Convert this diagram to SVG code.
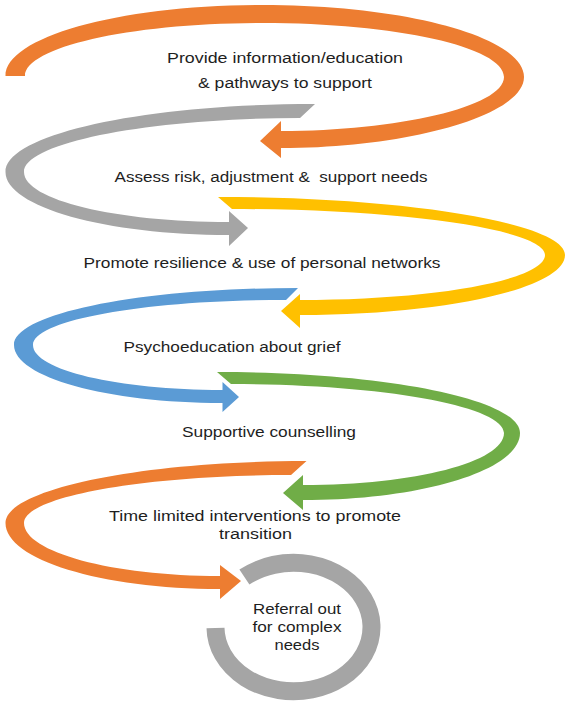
<svg xmlns="http://www.w3.org/2000/svg" width="570" height="704" viewBox="0 0 570 704">
<style>
.t{font-family:"Liberation Sans",Arial,sans-serif;font-size:15.5px;fill:#1e1e1e;text-anchor:middle}
.or{fill:#ED7D31}.gy{fill:#A5A5A5}.ye{fill:#FFC000}.bl{fill:#5B9BD5}.gr{fill:#70AD47}
</style>
<rect width="570" height="704" fill="#fff"/>
<g id="connectors">
<path class="or" d="M5.5 76 C5.5 36.8 120 5 262 5 C406 5 524 37 524 77 C524 116 406 148 281 148 L281 158 L260 141 L281 121 L281 131 C396 131 504 107 504 77 C504 47 396 23 262 23 C131 23 25 47 25 76 Z"/>
<path class="gy" d="M315 104 C144 104 5.5 134 5.5 172 C5.5 207 106 235 229 235 L229 246 L248 228 L229 211 L229 222 C116 222 24 200 24 172 C24 142 153 118 300 118 Z"/>
<path class="ye" d="M218 197 C404 197 565 223 565 255 C565 288 446 315 300 315 L300 328 L281 311 L300 294 L300 300 C435 300 545 280 545 255 C545 230 405 209 232 209 Z"/>
<path class="bl" d="M298 288 C141 288 14 313.5 14 345 C14 377 107 403 222.5 403 L222.5 412 L239 397 L222.5 382 L222.5 390 C118 390 33 370 33 345 C33 320 146 300 286 300 Z"/>
<path class="gr" d="M217 372 C385 372 520 399 520 433 C520 470 423 500 303 500 L303 510 L283 493 L303 475 L303 485 C415 485 504 462 504 433 C504 406 382 384 231 384 Z"/>
<path class="or" d="M306.5 461 C141 461 5.5 489 5.5 523 C5.5 559.5 101 589 220 589 L220 599 L241 581 L220 565 L220 576 C112 576 24 552 24 523 C24 496.5 144 475 291 475 Z"/>
</g>
<g id="step1">
<text class="t" x="285" y="63" textLength="236" lengthAdjust="spacingAndGlyphs">Provide information/education</text>
<text class="t" x="285" y="88" textLength="174" lengthAdjust="spacingAndGlyphs">&amp; pathways to support</text>
</g>
<g id="step2">
<text class="t" x="271" y="182" textLength="313" lengthAdjust="spacingAndGlyphs" xml:space="preserve">Assess risk, adjustment &amp;  support needs</text>
</g>
<g id="step3">
<text class="t" x="262" y="268" textLength="357" lengthAdjust="spacingAndGlyphs">Promote resilience &amp; use of personal networks</text>
</g>
<g id="step4">
<text class="t" x="232" y="352" textLength="217" lengthAdjust="spacingAndGlyphs">Psychoeducation about grief</text>
</g>
<g id="step5">
<text class="t" x="269" y="437" textLength="174" lengthAdjust="spacingAndGlyphs">Supportive counselling</text>
</g>
<g id="step6">
<text class="t" x="255" y="521" textLength="292" lengthAdjust="spacingAndGlyphs">Time limited interventions to promote</text>
<text class="t" x="255.5" y="539" textLength="73" lengthAdjust="spacingAndGlyphs">transition</text>
</g>
<g id="referral">
<path d="M244.4 577.1 A78 64.25 0 1 1 215.5 628" fill="none" stroke="#A5A5A5" stroke-width="18"/>
<text class="t" x="297" y="614" textLength="88" lengthAdjust="spacingAndGlyphs">Referral out</text>
<text class="t" x="297" y="632" textLength="89" lengthAdjust="spacingAndGlyphs">for complex</text>
<text class="t" x="297" y="650" textLength="45" lengthAdjust="spacingAndGlyphs">needs</text>
</g>
</svg>
